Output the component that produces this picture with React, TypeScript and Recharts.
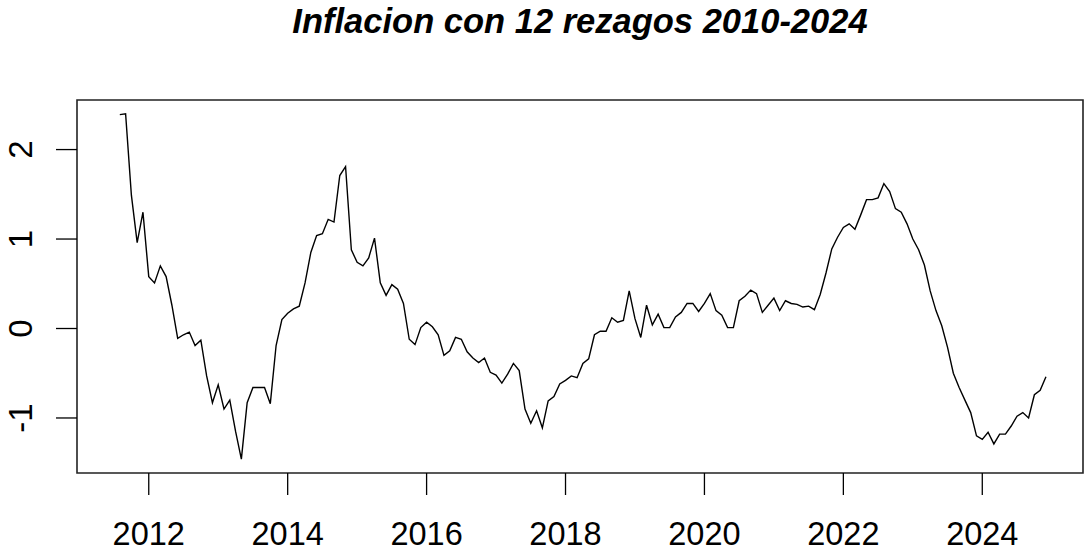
import React from "react";
import { LineChart, Line, XAxis, YAxis, ReferenceArea } from "recharts";

const startYear = 2011;
const startMonth = 8; // August
const values: number[] = [
  2.39, 2.40, 1.49, 0.96, 1.30, 0.58, 0.51, 0.70, 0.58, 0.26,
  -0.11, -0.07, -0.04, -0.19, -0.13, -0.53, -0.83, -0.63, -0.90, -0.80,
  -1.15, -1.46, -0.83, -0.66, -0.66, -0.66, -0.84, -0.19, 0.10, 0.17,
  0.22, 0.25, 0.51, 0.85, 1.04, 1.06, 1.22, 1.19, 1.71, 1.81,
  0.88, 0.74, 0.70, 0.79, 1.01, 0.51, 0.37, 0.49, 0.44, 0.28,
  -0.12, -0.18, 0.01, 0.07, 0.02, -0.07, -0.30, -0.25, -0.10, -0.12,
  -0.26, -0.33, -0.38, -0.33, -0.49, -0.52, -0.61, -0.51, -0.39, -0.47,
  -0.90, -1.06, -0.92, -1.11, -0.81, -0.76, -0.62, -0.58, -0.53, -0.55,
  -0.39, -0.34, -0.07, -0.03, -0.03, 0.12, 0.07, 0.09, 0.42, 0.11,
  -0.10, 0.26, 0.04, 0.16, 0.01, 0.01, 0.13, 0.18, 0.28, 0.28,
  0.19, 0.28, 0.39, 0.20, 0.15, 0.01, 0.01, 0.31, 0.36, 0.43,
  0.39, 0.18, 0.26, 0.34, 0.20, 0.31, 0.28, 0.27, 0.24, 0.25,
  0.21, 0.38, 0.62, 0.89, 1.02, 1.13, 1.17, 1.11, 1.27, 1.44,
  1.44, 1.46, 1.62, 1.53, 1.34, 1.30, 1.17, 1.00, 0.88, 0.71,
  0.42, 0.20, 0.03, -0.21, -0.50, -0.66, -0.80, -0.94, -1.20, -1.24,
  -1.16, -1.29, -1.18, -1.18, -1.09, -0.98, -0.94, -1.00, -0.74, -0.69,
  -0.54,
];
const xTicks = [2012, 2014, 2016, 2018, 2020, 2022, 2024];
const yTicks = [-1, 0, 1, 2];
const xDomain: [number, number] = [2010.967, 2025.45];
const yDomain: [number, number] = [-1.615, 2.554];
const title = "Inflacion con 12 rezagos 2010-2024";

const data = values.map((v, i) => ({
  t: startYear + (startMonth - 1 + i) / 12,
  v,
}));

const FONT = '"Liberation Sans", Arial, sans-serif';

const XTick = (props: any) => {
  const { x, y, payload } = props;
  return (
    <text x={x} y={y + 50} textAnchor="middle" fontFamily={FONT} fontSize={32.5} fill="#000">
      {payload.value}
    </text>
  );
};

const YTick = (props: any) => {
  const { x, y, payload } = props;
  const bx = x - 24;
  return (
    <text
      x={bx}
      y={y}
      textAnchor="middle"
      fontFamily={FONT}
      fontSize={33}
      fill="#000"
      transform={`rotate(-90, ${bx}, ${y})`}
    >
      {payload.value}
    </text>
  );
};

export default function App() {
  return (
    <div style={{ position: "absolute", left: 0, top: 0, width: 1084, height: 550, background: "#fff" }}>
      <svg width={1084} height={550} style={{ position: "absolute", left: 0, top: 0 }}>
        <text
          x={580}
          y={33}
          textAnchor="middle"
          fontFamily={FONT}
          fontSize={34.5}
          fontWeight="bold"
          fontStyle="italic"
          fill="#000"
        >
          {title}
        </text>
      </svg>
      <div style={{ position: "absolute", left: 0, top: 0 }}>
        <LineChart
          width={1084}
          height={550}
          data={data}
          margin={{ top: 100, right: 1, bottom: 0, left: 0 }}
        >
          <XAxis
            dataKey="t"
            type="number"
            domain={xDomain}
            allowDataOverflow
            ticks={xTicks}
            interval={0}
            height={77}
            axisLine={false}
            tickLine={{ stroke: "#000", strokeWidth: 1.3 }}
            tickSize={22}
            tickMargin={0}
            tick={<XTick />}
          />
          <YAxis
            type="number"
            domain={yDomain}
            allowDataOverflow
            ticks={yTicks}
            interval={0}
            width={77}
            axisLine={false}
            tickLine={{ stroke: "#000", strokeWidth: 1.3 }}
            tickSize={21}
            tickMargin={0}
            tick={<YTick />}
          />
          <ReferenceArea
            x1={xDomain[0]}
            x2={xDomain[1]}
            y1={yDomain[0]}
            y2={yDomain[1]}
            fill="none"
            fillOpacity={0}
            stroke="#222"
            strokeWidth={1.6}
            ifOverflow="visible"
          />
          <Line
            type="linear"
            dataKey="v"
            stroke="#000"
            strokeWidth={1.4}
            dot={false}
            isAnimationActive={false}
          />
        </LineChart>
      </div>
    </div>
  );
}
